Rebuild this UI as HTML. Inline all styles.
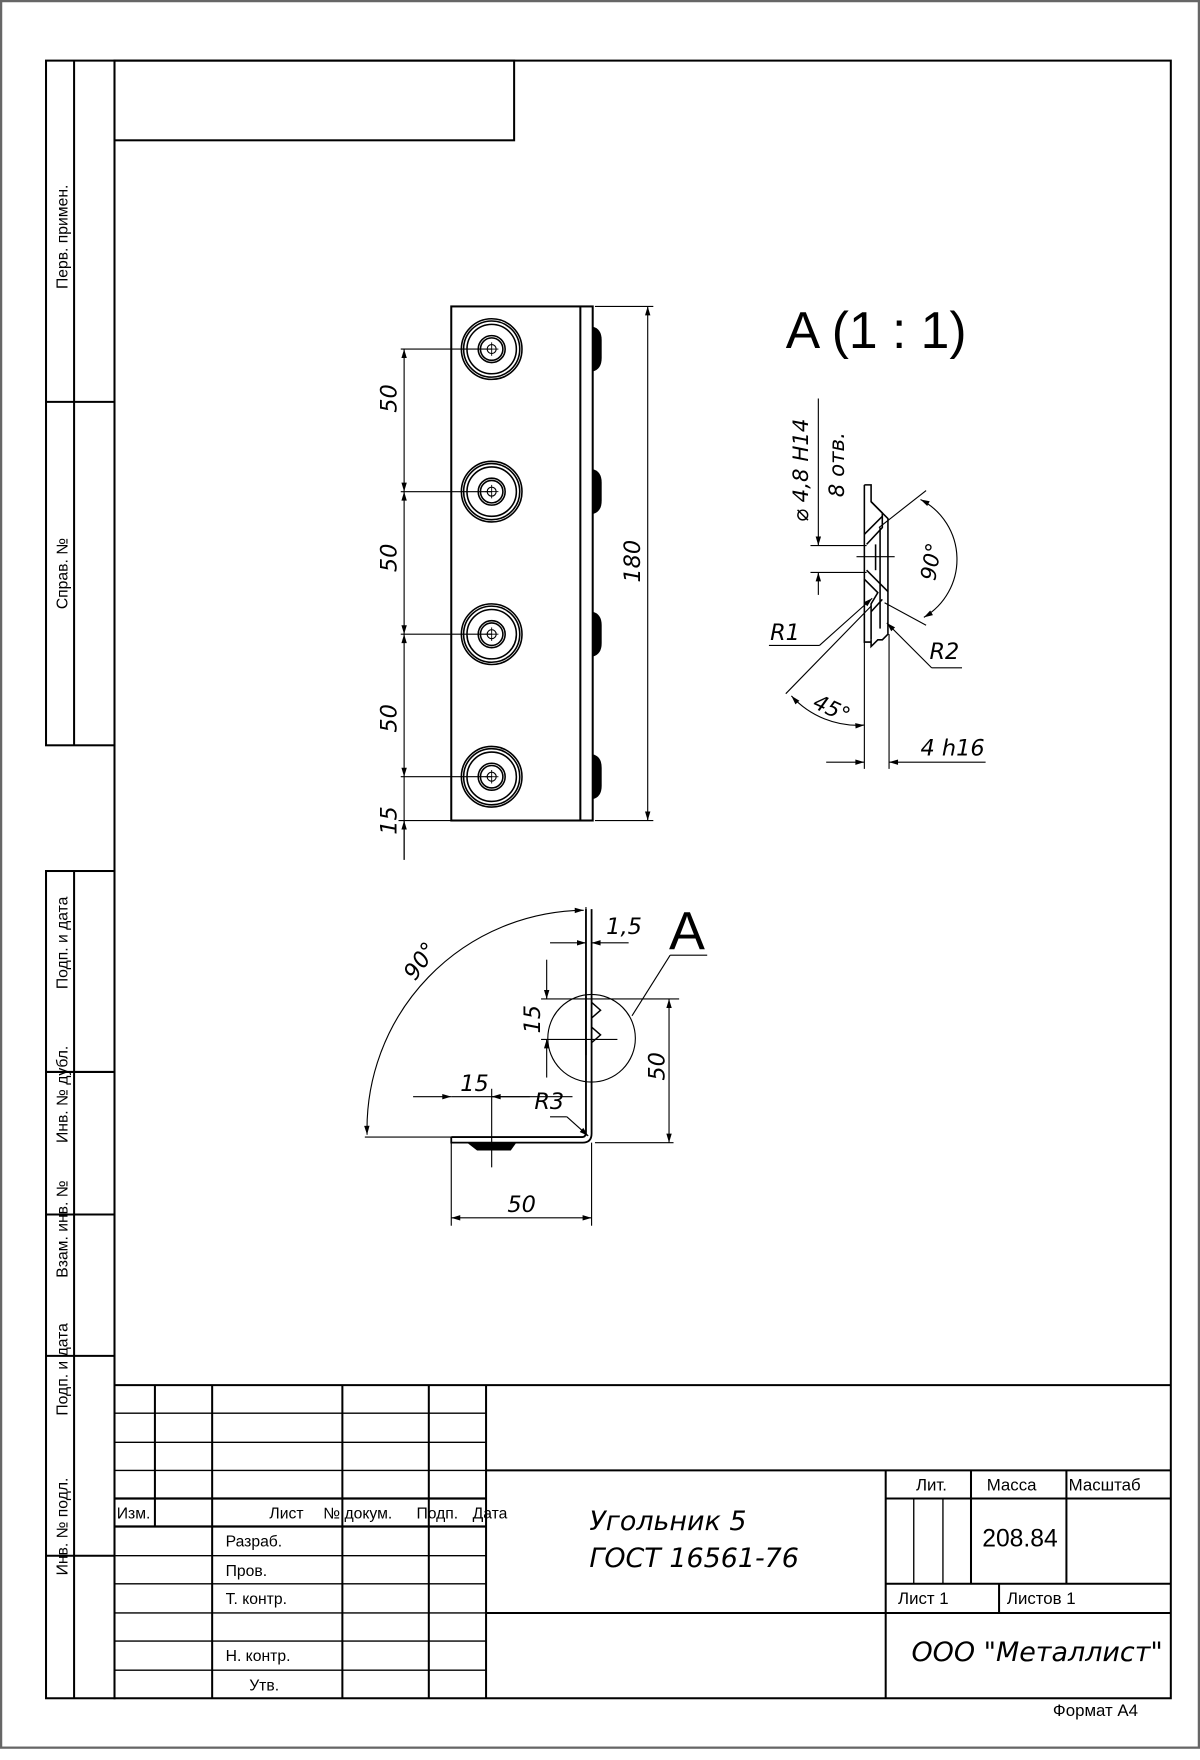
<!DOCTYPE html>
<html><head><meta charset="utf-8"><style>
html,body{margin:0;padding:0;background:#fff;}
svg{display:block;}
text{font-family:"Liberation Sans","DejaVu Sans",sans-serif;fill:#000;}
.it{font-style:italic;font-family:"DejaVu Sans","Liberation Sans",sans-serif;}
</style></head><body>
<svg width="1200" height="1760" viewBox="0 0 1069 1568" preserveAspectRatio="none" xmlns="http://www.w3.org/2000/svg">
<defs>
<marker id="ar" viewBox="0 0 10 10" refX="10" refY="5" markerWidth="10" markerHeight="8" orient="auto-start-reverse" markerUnits="userSpaceOnUse"><path d="M0,2 L10,5 L0,8 Z" fill="#000"/></marker>
</defs>
<rect x="0" y="0" width="1069" height="1568" fill="#fff"/>
<rect x="1" y="1" width="1067" height="1556" fill="none" stroke="#666" stroke-width="2"/>
<g stroke="#000" fill="none" stroke-width="1.8">
<rect x="102" y="54" width="941" height="1459"/>
<rect x="102" y="54" width="356" height="71"/>
<rect x="41" y="54" width="61" height="610"/>
<line x1="66" y1="54" x2="66" y2="664"/>
<line x1="41" y1="358" x2="102" y2="358"/>
<rect x="41" y="776" width="61" height="737"/>
<line x1="66" y1="776" x2="66" y2="1513"/>
<line x1="41" y1="955" x2="102" y2="955"/>
<line x1="41" y1="1082" x2="102" y2="1082"/>
<line x1="41" y1="1208" x2="102" y2="1208"/>
<line x1="41" y1="1386" x2="102" y2="1386"/>
<line x1="102" y1="1234" x2="1043" y2="1234"/>
<line x1="433" y1="1234" x2="433" y2="1513"/>
<line x1="138" y1="1234" x2="138" y2="1360"/>
<line x1="189" y1="1234" x2="189" y2="1513"/>
<line x1="305" y1="1234" x2="305" y2="1513"/>
<line x1="382" y1="1234" x2="382" y2="1513"/>
<line x1="433" y1="1310" x2="1043" y2="1310"/>
<line x1="433" y1="1437" x2="1043" y2="1437"/>
<line x1="789" y1="1310" x2="789" y2="1513"/>
<line x1="865" y1="1310" x2="865" y2="1411"/>
<line x1="950" y1="1310" x2="950" y2="1411"/>
<line x1="789" y1="1335" x2="1043" y2="1335"/>
<line x1="789" y1="1411" x2="1043" y2="1411"/>
<line x1="890" y1="1411" x2="890" y2="1437"/>
</g>
<g stroke="#000" stroke-width="1.2">
<line x1="814" y1="1335" x2="814" y2="1411"/>
<line x1="840" y1="1335" x2="840" y2="1411"/>
<line x1="102" y1="1259" x2="433" y2="1259"/>
<line x1="102" y1="1285" x2="433" y2="1285"/>
<line x1="102" y1="1310" x2="433" y2="1310"/>
<line x1="102" y1="1335" x2="433" y2="1335" stroke-width="2"/>
<line x1="102" y1="1360" x2="433" y2="1360" stroke-width="2"/>
<line x1="102" y1="1386" x2="433" y2="1386"/>
<line x1="102" y1="1411" x2="433" y2="1411"/>
<line x1="102" y1="1437" x2="433" y2="1437"/>
<line x1="102" y1="1462" x2="433" y2="1462"/>
<line x1="102" y1="1488" x2="433" y2="1488"/>
</g>
<g font-size="14">
<text transform="translate(60,211) rotate(-90)" text-anchor="middle">Перв. примен.</text>
<text transform="translate(60,511) rotate(-90)" text-anchor="middle">Справ. №</text>
<text transform="translate(60,840) rotate(-90)" text-anchor="middle">Подп. и дата</text>
<text transform="translate(60,975) rotate(-90)" text-anchor="middle">Инв. № дубл.</text>
<text transform="translate(60,1095) rotate(-90)" text-anchor="middle">Взам. инв. №</text>
<text transform="translate(60,1220) rotate(-90)" text-anchor="middle">Подп. и дата</text>
<text transform="translate(60,1360) rotate(-90)" text-anchor="middle">Инв. № подл.</text>
</g>
<g font-size="14">
<text x="104" y="1353">Изм.</text>
<text x="240" y="1353">Лист</text>
<text x="288" y="1353">№ докум.</text>
<text x="371" y="1353">Подп.</text>
<text x="421" y="1353">Дата</text>
<text x="201" y="1378">Разраб.</text>
<text x="201" y="1404">Пров.</text>
<text x="201" y="1429">Т. контр.</text>
<text x="201" y="1480">Н. контр.</text>
<text x="222" y="1506">Утв.</text>
<text x="816" y="1328" font-size="15">Лит.</text>
<text x="879" y="1328" font-size="15">Масса</text>
<text x="952" y="1328" font-size="15">Масштаб</text>
<text x="875" y="1378" font-size="22">208.84</text>
<text x="800" y="1429" font-size="15">Лист 1</text>
<text x="897" y="1429" font-size="15">Листов 1</text>
<text x="938" y="1529" font-size="15">Формат А4</text>
</g>
<text class="it" x="525" y="1363" font-size="24">Угольник 5</text>
<text class="it" x="525" y="1396" font-size="24">ГОСТ 16561-76</text>
<text class="it" x="812" y="1480" font-size="24">ООО "Металлист"</text>

<g stroke="#000" fill="none" stroke-width="1.8">
<rect x="402" y="273" width="126" height="458"/>
<line x1="517" y1="273" x2="517" y2="731"/>
</g>
<g stroke="#000" fill="none" stroke-width="1.4">
<g transform="translate(438,311)"><circle r="27"/><circle r="25"/><circle r="22"/><circle r="12"/><circle r="10"/><circle r="4" stroke-width="1"/><line x1="-6" y1="0" x2="6" y2="0" stroke-width="0.8"/><line x1="0" y1="-6" x2="0" y2="6" stroke-width="0.8"/></g>
<g transform="translate(438,438)"><circle r="27"/><circle r="25"/><circle r="22"/><circle r="12"/><circle r="10"/><circle r="4" stroke-width="1"/><line x1="-6" y1="0" x2="6" y2="0" stroke-width="0.8"/><line x1="0" y1="-6" x2="0" y2="6" stroke-width="0.8"/></g>
<g transform="translate(438,565)"><circle r="27"/><circle r="25"/><circle r="22"/><circle r="12"/><circle r="10"/><circle r="4" stroke-width="1"/><line x1="-6" y1="0" x2="6" y2="0" stroke-width="0.8"/><line x1="0" y1="-6" x2="0" y2="6" stroke-width="0.8"/></g>
<g transform="translate(438,692)"><circle r="27"/><circle r="25"/><circle r="22"/><circle r="12"/><circle r="10"/><circle r="4" stroke-width="1"/><line x1="-6" y1="0" x2="6" y2="0" stroke-width="0.8"/><line x1="0" y1="-6" x2="0" y2="6" stroke-width="0.8"/></g>
</g>
<g fill="#000">
<path d="M528,291 q8,2 8,12 v16 q0,10 -8,12 z"/>
<path d="M528,418 q8,2 8,12 v16 q0,10 -8,12 z"/>
<path d="M528,545 q8,2 8,12 v16 q0,10 -8,12 z"/>
<path d="M528,672 q8,2 8,12 v16 q0,10 -8,12 z"/>
</g>
<g stroke="#000" stroke-width="1" fill="none">
<line x1="357" y1="311" x2="438" y2="311"/>
<line x1="357" y1="438" x2="438" y2="438"/>
<line x1="357" y1="565" x2="438" y2="565"/>
<line x1="357" y1="692" x2="438" y2="692"/>
<line x1="355" y1="731" x2="402" y2="731"/>
<line x1="360" y1="311" x2="360" y2="438" marker-start="url(#ar)" marker-end="url(#ar)"/>
<line x1="360" y1="438" x2="360" y2="565" marker-start="url(#ar)" marker-end="url(#ar)"/>
<line x1="360" y1="565" x2="360" y2="692" marker-start="url(#ar)" marker-end="url(#ar)"/>
<line x1="360" y1="692" x2="360" y2="766"/>
<line x1="360" y1="731" x2="360" y2="766" marker-start="url(#ar)"/>
<line x1="530" y1="273" x2="582" y2="273"/>
<line x1="530" y1="731" x2="582" y2="731"/>
<line x1="577" y1="273" x2="577" y2="731" marker-start="url(#ar)" marker-end="url(#ar)"/>
</g>
<g font-size="20">
<text class="it" transform="translate(353,355) rotate(-90)" text-anchor="middle">50</text>
<text class="it" transform="translate(353,497) rotate(-90)" text-anchor="middle">50</text>
<text class="it" transform="translate(353,640) rotate(-90)" text-anchor="middle">50</text>
<text class="it" transform="translate(353,731) rotate(-90)" text-anchor="middle">15</text>
<text class="it" transform="translate(570,500) rotate(-90)" text-anchor="middle">180</text>
</g>

<text x="700" y="310" font-size="46">A (1 : 1)</text>
<g stroke="#000" stroke-width="1.4" fill="none">
<path d="M770,432 L776,432 L776,447 L791,462 L791,565 L786,570 L782,570 L776,576 L776,570"/>
<path d="M770,432 L770,572 L776,572"/>
<path d="M776,447 L786,457 L786,470 L772,485"/>
<path d="M770,476 L786,460"/>
<path d="M772,508 L791,527"/>
<path d="M770,516 L782,528 L776,538 L776,570"/>
<path d="M786,534 L776,545"/>
<line x1="780" y1="485" x2="780" y2="508"/>
<line x1="784" y1="470" x2="784" y2="560"/>
</g>
<g stroke="#000" stroke-width="1" fill="none">
<line x1="722" y1="486" x2="772" y2="486"/>
<line x1="722" y1="510" x2="772" y2="510"/>
<line x1="763" y1="496" x2="797" y2="496"/>
<line x1="729" y1="355" x2="729" y2="486" marker-end="url(#ar)"/>
<line x1="729" y1="530" x2="729" y2="510" marker-end="url(#ar)"/>
<line x1="783" y1="470" x2="825" y2="437"/>
<line x1="788" y1="537" x2="825" y2="557"/>
<path d="M820,445 A60,60 0 0 1 823,550" marker-start="url(#ar)" marker-end="url(#ar)"/>
<line x1="685" y1="575" x2="730" y2="575"/>
<line x1="730" y1="575" x2="777" y2="533" marker-end="url(#ar)"/>
<line x1="700" y1="618" x2="776" y2="540"/>
<line x1="790" y1="555" x2="830" y2="595" marker-start="url(#ar)"/>
<line x1="830" y1="595" x2="857" y2="595"/>
<path d="M705,620 A80,80 0 0 0 770,646" marker-start="url(#ar)" marker-end="url(#ar)"/>
<line x1="770" y1="570" x2="770" y2="685"/>
<line x1="792" y1="565" x2="792" y2="685"/>
<line x1="736" y1="679" x2="770" y2="679" marker-end="url(#ar)"/>
<line x1="878" y1="679" x2="792" y2="679" marker-end="url(#ar)"/>
</g>
<text class="it" transform="translate(720,465) rotate(-90)" font-size="19">⌀ 4,8 Н14</text>
<text class="it" transform="translate(752,443) rotate(-90)" font-size="19">8 отв.</text>
<text class="it" x="686" y="570" font-size="20">R1</text>
<text class="it" x="828" y="587" font-size="20">R2</text>
<text class="it" transform="translate(723,630) rotate(25)" font-size="19">45°</text>
<text class="it" transform="translate(833,518) rotate(-80)" font-size="19">90°</text>
<text class="it" x="820" y="673" font-size="20">4  h16</text>

<g stroke="#000" stroke-width="1.6" fill="none">
<path d="M402,1013 L519,1013 Q522,1013 522,1008 L522,810"/>
<path d="M402,1013 L402,1018 L519,1018 Q527,1018 527,1010 L527,810"/>
<circle cx="527" cy="925" r="39" stroke-width="1"/>
<path d="M527,893 L535,900 L527,907 M527,915 L535,922 L527,929 M522,888 L522,940" stroke-width="1.3"/>
</g>
<path d="M416,1018 L460,1018 L455,1025 L425,1025 Z" fill="#000"/>
<g stroke="#000" stroke-width="1" fill="none">
<line x1="522" y1="808" x2="522" y2="1012"/>
<line x1="527" y1="1018" x2="527" y2="1092"/>
<line x1="402" y1="1018" x2="402" y2="1092"/>
<line x1="402" y1="1085" x2="527" y2="1085" marker-start="url(#ar)" marker-end="url(#ar)"/>
<line x1="530" y1="1018" x2="600" y2="1018"/>
<line x1="482" y1="890" x2="605" y2="890"/>
<line x1="596" y1="890" x2="596" y2="1018" marker-start="url(#ar)" marker-end="url(#ar)"/>
<line x1="482" y1="926" x2="550" y2="926"/>
<line x1="487" y1="855" x2="487" y2="890" marker-end="url(#ar)"/>
<line x1="487" y1="960" x2="487" y2="926" marker-end="url(#ar)"/>
<line x1="368" y1="977" x2="402" y2="977" marker-end="url(#ar)"/>
<line x1="402" y1="977" x2="510" y2="977"/>
<line x1="472" y1="977" x2="438" y2="977" marker-end="url(#ar)"/>
<line x1="438" y1="970" x2="438" y2="1040"/>
<line x1="490" y1="995" x2="505" y2="995"/>
<line x1="505" y1="995" x2="524" y2="1012" marker-end="url(#ar)"/>
<line x1="490" y1="840" x2="522" y2="840" marker-end="url(#ar)"/>
<line x1="560" y1="840" x2="527" y2="840" marker-end="url(#ar)"/>
<line x1="325" y1="1013" x2="402" y2="1013"/>
<line x1="563" y1="905" x2="597" y2="851"/>
<line x1="597" y1="851" x2="630" y2="851"/>
<path d="M520,811 A195,195 0 0 0 327,1011" marker-start="url(#ar)" marker-end="url(#ar)"/>
</g>
<text x="596" y="846" font-size="48">A</text>
<text class="it" x="540" y="832" font-size="20">1,5</text>
<text class="it" x="410" y="972" font-size="20">15</text>
<text class="it" x="476" y="988" font-size="20">R3</text>
<text class="it" x="452" y="1080" font-size="20">50</text>
<text class="it" transform="translate(481,908) rotate(-90)" font-size="20" text-anchor="middle">15</text>
<text class="it" transform="translate(592,950) rotate(-90)" font-size="20" text-anchor="middle">50</text>
<text class="it" transform="translate(380,860) rotate(-55)" font-size="20" text-anchor="middle">90°</text>
</svg>
</body></html>
